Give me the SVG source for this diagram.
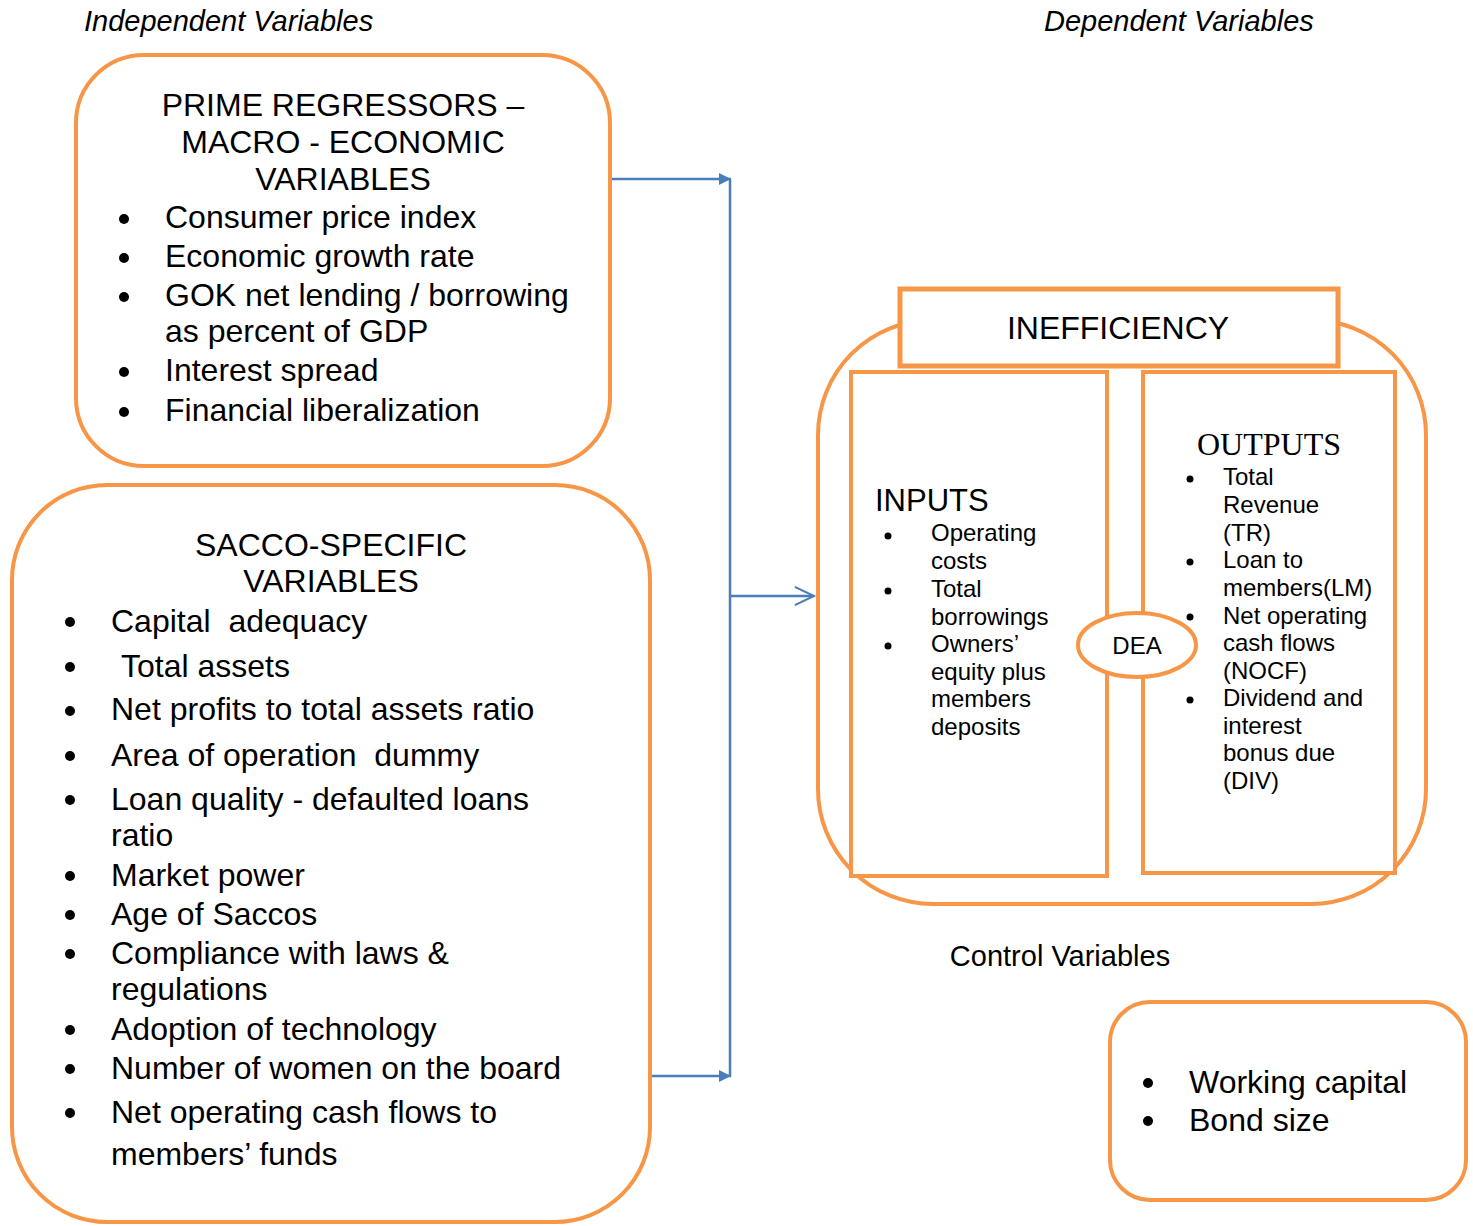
<svg xmlns="http://www.w3.org/2000/svg" width="1473" height="1226" viewBox="0 0 1473 1226">
<style>
.box{fill:#fff;stroke:#F79646;stroke-width:4}
.t{font-family:"Liberation Sans",Arial,sans-serif;fill:#000}
.it{font-family:"Liberation Sans",Arial,sans-serif;font-style:italic;font-size:29px}
.l32{font-size:32px}
.l24{font-size:24px}
.c{text-anchor:middle}
.conn{stroke:#4A7EBB;stroke-width:2.5;fill:none}
</style>
<defs>
<marker id="tri" viewBox="0 0 10 10" refX="10" refY="5" markerWidth="5" markerHeight="5" markerUnits="strokeWidth" orient="auto">
<path d="M0,0 L10,5 L0,10 z" fill="#4A7EBB"/>
</marker>
<marker id="open" viewBox="0 0 12 12" refX="11" refY="6" markerWidth="10" markerHeight="10" markerUnits="userSpaceOnUse" orient="auto" overflow="visible">
<path d="M-12,-5 L11,6 L-12,17" fill="none" stroke="#4A7EBB" stroke-width="2.5"/>
</marker>
</defs>

<text class="it" x="84" y="31">Independent Variables</text>
<text class="it" x="1044" y="31">Dependent Variables</text>

<g id="prime">
<rect class="box" x="76" y="55" width="534" height="411" rx="68"/>
<g class="t l32">
<text class="c" x="343" y="116">PRIME REGRESSORS –</text>
<text class="c" x="343" y="153">MACRO - ECONOMIC</text>
<text class="c" x="343" y="190">VARIABLES</text>
<text x="165" y="228">Consumer price index</text>
<text x="165" y="267">Economic growth rate</text>
<text x="165" y="306">GOK net lending / borrowing</text>
<text x="165" y="342">as percent of GDP</text>
<text x="165" y="381">Interest spread</text>
<text x="165" y="421">Financial liberalization</text>
</g>
<g fill="#000">
<circle cx="124" cy="219" r="5"/><circle cx="124" cy="258" r="5"/><circle cx="124" cy="297" r="5"/><circle cx="124" cy="372" r="5"/><circle cx="124" cy="412" r="5"/>
</g>
</g>

<g id="sacco">
<rect class="box" x="12" y="485" width="638" height="737" rx="95"/>
<g class="t l32">
<text class="c" x="331" y="556">SACCO-SPECIFIC</text>
<text class="c" x="331" y="592">VARIABLES</text>
<text x="111" y="632" xml:space="preserve">Capital  adequacy</text>
<text x="121" y="677">Total assets</text>
<text x="111" y="720">Net profits to total assets ratio</text>
<text x="111" y="766" xml:space="preserve">Area of operation  dummy</text>
<text x="111" y="810">Loan quality - defaulted loans</text>
<text x="111" y="846">ratio</text>
<text x="111" y="886">Market power</text>
<text x="111" y="925">Age of Saccos</text>
<text x="111" y="964">Compliance with laws &amp;</text>
<text x="111" y="1000">regulations</text>
<text x="111" y="1040">Adoption of technology</text>
<text x="111" y="1079">Number of women on the board</text>
<text x="111" y="1123">Net operating cash flows to</text>
<text x="111" y="1165">members’ funds</text>
</g>
<g fill="#000">
<circle cx="70" cy="622" r="5"/><circle cx="70" cy="667" r="5"/><circle cx="70" cy="711" r="5"/><circle cx="70" cy="756" r="5"/><circle cx="70" cy="800" r="5"/><circle cx="70" cy="876" r="5"/><circle cx="70" cy="915" r="5"/><circle cx="70" cy="954" r="5"/><circle cx="70" cy="1030" r="5"/><circle cx="70" cy="1069" r="5"/><circle cx="70" cy="1113" r="5"/>
</g>
</g>

<g id="connectors">
<line class="conn" x1="612" y1="179" x2="731" y2="179" marker-end="url(#tri)"/>
<line class="conn" x1="730" y1="179" x2="730" y2="1077"/>
<line class="conn" x1="652" y1="1076" x2="731" y2="1076" marker-end="url(#tri)"/>
<line class="conn" x1="730" y1="596" x2="814" y2="596" marker-end="url(#open)"/>
</g>

<g id="inefficiency">
<rect class="box" x="818" y="320" width="608" height="584" rx="115"/>
<rect class="box" x="851" y="372" width="256" height="504"/>
<rect class="box" x="1143" y="372" width="252" height="501"/>
<rect x="900" y="289" width="438" height="77" fill="#fff" stroke="#F79646" stroke-width="5"/>
<text class="t l32 c" x="1118" y="339">INEFFICIENCY</text>
</g>

<g id="inputs">
<text class="t" x="875" y="511" font-size="31">INPUTS</text>
<g class="t l24">
<text x="931" y="541">Operating</text>
<text x="931" y="569">costs</text>
<text x="931" y="597">Total</text>
<text x="931" y="625">borrowings</text>
<text x="931" y="652">Owners’</text>
<text x="931" y="680">equity plus</text>
<text x="931" y="707">members</text>
<text x="931" y="735">deposits</text>
</g>
<g fill="#000"><circle cx="888" cy="536" r="3.5"/><circle cx="888" cy="591" r="3.5"/><circle cx="888" cy="646" r="3.5"/></g>
</g>

<g id="outputs">
<text x="1197" y="455" font-family="'Liberation Serif','Times New Roman',serif" font-size="32">OUTPUTS</text>
<g class="t l24">
<text x="1223" y="485">Total</text>
<text x="1223" y="513">Revenue</text>
<text x="1223" y="541">(TR)</text>
<text x="1223" y="568">Loan to</text>
<text x="1223" y="596">members(LM)</text>
<text x="1223" y="624">Net operating</text>
<text x="1223" y="651">cash flows</text>
<text x="1223" y="679">(NOCF)</text>
<text x="1223" y="706">Dividend and</text>
<text x="1223" y="734">interest</text>
<text x="1223" y="761">bonus due</text>
<text x="1223" y="789">(DIV)</text>
</g>
<g fill="#000"><circle cx="1190" cy="479" r="3.5"/><circle cx="1190" cy="562" r="3.5"/><circle cx="1190" cy="617" r="3.5"/><circle cx="1190" cy="700" r="3.5"/></g>
</g>

<g id="dea">
<ellipse cx="1137" cy="645" rx="59" ry="32" fill="#fff" stroke="#F79646" stroke-width="4"/>
<text class="t l24 c" x="1137" y="654">DEA</text>
</g>

<text class="t c" x="1060" y="966" font-size="29">Control Variables</text>

<g id="control">
<rect class="box" x="1110" y="1002" width="356" height="198" rx="40"/>
<g class="t l32">
<text x="1189" y="1093">Working capital</text>
<text x="1189" y="1131">Bond size</text>
</g>
<g fill="#000"><circle cx="1148" cy="1083" r="5"/><circle cx="1148" cy="1121" r="5"/></g>
</g>
</svg>
